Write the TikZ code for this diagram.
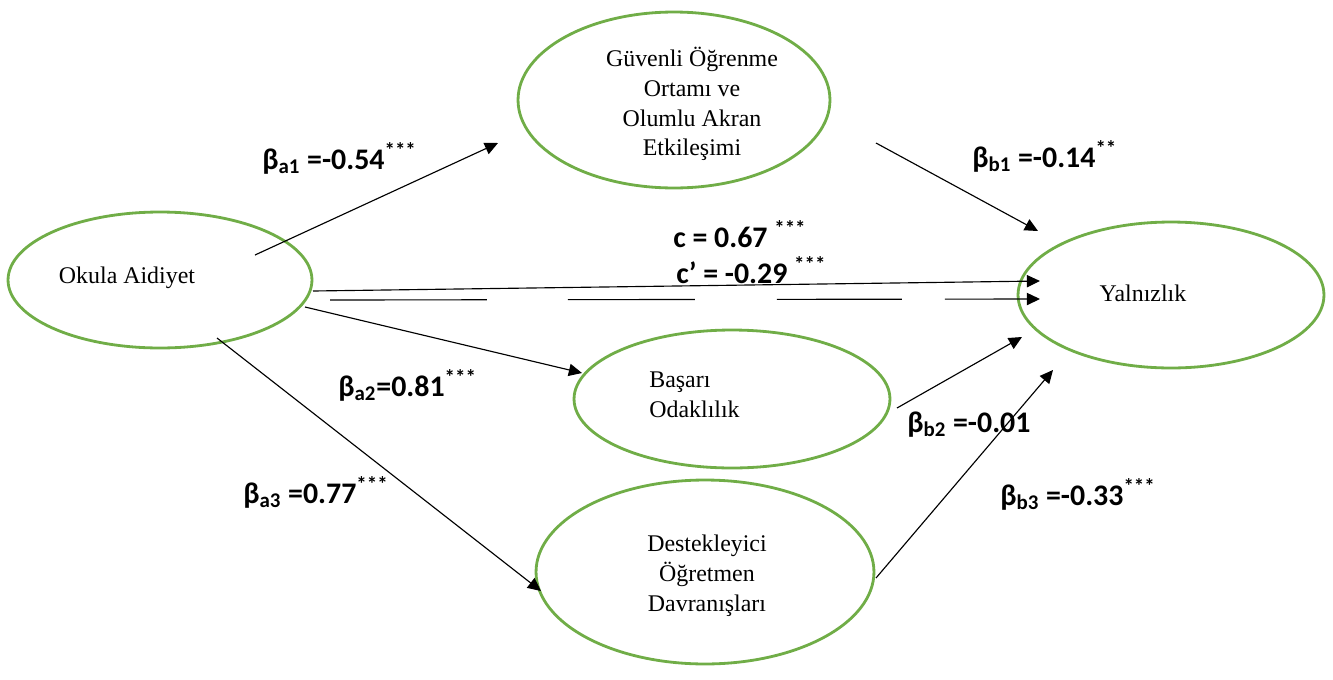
\documentclass[tikz,border=0pt]{standalone}
\usepackage{fontspec}
\setmainfont{Liberation Serif}
\newfontfamily\labfont{Carlito}
\usetikzlibrary{shapes.geometric,arrows.meta}
\definecolor{elgreen}{HTML}{70AD47}
\tikzset{
  var/.style={draw=elgreen,line width=1.6pt,ellipse,inner sep=0pt},
  vtext/.style={font=\fontsize{13.6}{17}\selectfont,align=center,inner sep=0pt},
  path/.style={line width=0.65pt,-{Triangle[length=7.5pt,width=7pt]}},
  coef/.style={font=\labfont\bfseries\fontsize{17}{20}\selectfont,anchor=base west,inner sep=0pt},
}
\begin{document}
\begin{tikzpicture}[x=0.02cm,y=-0.02cm]
\useasboundingbox (0,0) rectangle (1333,680);
% variables
\node[var,minimum width=6.08cm,minimum height=2.72cm] (oa) at (160,280) {};
\node[var,minimum width=6.24cm,minimum height=3.52cm] (go) at (674,100) {};
\node[var,minimum width=6.12cm,minimum height=2.92cm] (ya) at (1171,295) {};
\node[var,minimum width=6.32cm,minimum height=2.76cm] (bo) at (732,399) {};
\node[var,minimum width=6.76cm,minimum height=3.68cm] (do) at (705,572) {};
% texts
\node[vtext] (oat) at (127,278) {Okula Aidiyet};
\node[vtext] (got) at (692,104) {Güvenli Öğrenme\\Ortamı ve\\Olumlu Akran\\Etkileşimi};
\node[vtext] (yat) at (1143,293) {Yalnızlık};
\node[vtext,align=left,anchor=west] (bot) at (649,395) {Başarı\\Odaklılık};
\node[vtext] (dot) at (707,576) {Destekleyici\\Öğretmen\\Davranışları};
% connector end points
\coordinate (a1s) at (255,255); \coordinate (a1e) at (498,143);
\coordinate (b1s) at (876,143); \coordinate (b1e) at (1038,231);
\coordinate (cs) at (313,291);  \coordinate (ce) at (1040,281);
\coordinate (cps) at (330,300); \coordinate (cpe) at (1040,299);
\coordinate (a2s) at (305,307); \coordinate (a2e) at (582,373);
\coordinate (a3s) at (217,338); \coordinate (a3e) at (541,591);
\coordinate (b2s) at (897,408); \coordinate (b2e) at (1022,337);
\coordinate (b3s) at (876,578); \coordinate (b3e) at (1053,370);
% connectors
\draw[path] (a1s) -- (a1e);
\draw[path] (b1s) -- (b1e);
\draw[path] (cs) -- (ce);
\draw[path,dash pattern=on 3.14cm off 1.62cm on 2.54cm off 1.64cm on 2.5cm off 0.86cm on 4cm] (cps) -- (cpe);
\draw[path] (a2s) -- (a2e);
\draw[path] (a3s) -- (a3e);
\draw[path] (b2s) -- (b2e);
\draw[path] (b3s) -- (b3e);
% coefficients
\node[coef] (la1) at (262,169) {β\textsubscript{a1} =-0.54\textsuperscript{***}};
\node[coef] (lb1) at (972,167) {β\textsubscript{b1} =-0.14\textsuperscript{**}};
\node[coef] (lc) at (673,247) {c = 0.67 \textsuperscript{***}};
\node[coef] (lcp) at (676,283) {c’ = -0.29 \textsuperscript{***}};
\node[coef] (la2) at (338,396) {β\textsubscript{a2}=0.81\textsuperscript{***}};
\node[coef] (lb2) at (907,432) {β\textsubscript{b2} =-0.01};
\node[coef] (la3) at (243,503) {β\textsubscript{a3} =0.77\textsuperscript{***}};
\node[coef] (lb3) at (1000,505) {β\textsubscript{b3} =-0.33\textsuperscript{***}};
\end{tikzpicture}
\end{document}
